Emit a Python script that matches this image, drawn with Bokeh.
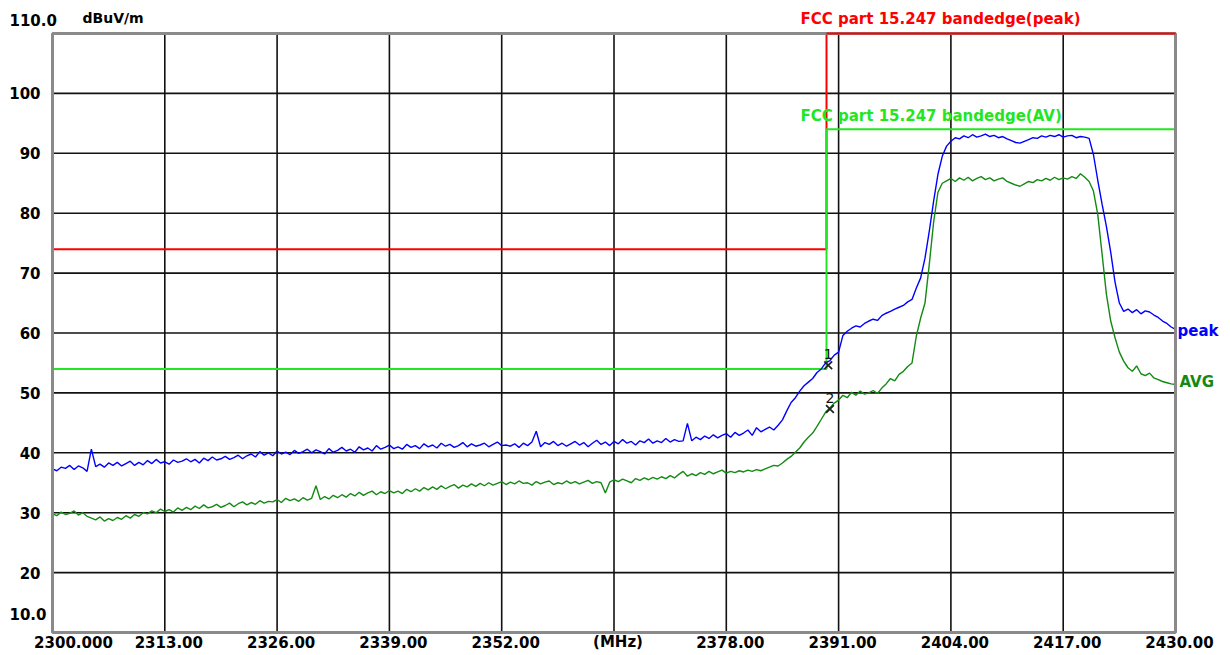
from bokeh.plotting import figure
from bokeh.models import Range1d
from bokeh.embed import file_html
from bokeh.resources import INLINE
from bokeh.core.properties import value

# ---------------- data ----------------
freq_start = 2300.0
freq_step = 0.5

peak = [
    37.3, 37.0, 37.6, 37.4, 37.9, 37.2, 37.8, 37.5, 36.9, 40.6, 37.7, 38.1, 37.6, 38.3, 37.9, 38.4, 37.8, 38.2, 38.6, 37.9,
    38.4, 38.0, 38.7, 38.2, 38.9, 38.3, 38.5, 38.1, 38.8, 38.4, 38.6, 39.0, 38.5, 38.9, 38.3, 39.1, 38.7, 39.3, 38.8, 39.0,
    39.4, 38.9, 39.2, 39.6, 39.0, 39.5, 39.8, 39.3, 40.2, 39.6, 40.0, 39.5, 40.3, 39.8, 40.1, 39.7, 40.4, 39.9, 40.2, 40.6,
    40.0, 40.5, 40.2, 39.8, 40.7, 40.1, 40.4, 40.9, 40.3, 40.6, 40.1, 41.0, 40.5, 40.8, 40.3, 41.2, 40.6, 40.9, 41.3, 40.7,
    41.0, 40.6, 41.4, 40.9, 41.2, 40.7, 41.5, 41.0, 41.3, 40.8, 41.6, 41.1, 41.4, 40.9, 41.2, 41.7, 41.0, 41.5, 41.1, 41.3,
    41.6, 41.0, 41.4, 41.8, 41.2, 41.3, 41.1, 41.5, 40.9, 41.6, 41.2, 41.8, 43.6, 41.0, 41.7, 41.4, 41.9, 41.2, 41.6, 41.1,
    41.5, 41.9, 41.3, 41.7, 41.0, 41.6, 42.1, 41.4, 41.8, 41.2, 41.9, 41.5, 42.2, 41.6, 41.9, 41.3, 42.0, 41.7, 42.3, 41.6,
    42.0, 41.7, 42.4, 41.8, 42.2, 41.9, 42.0, 44.9, 42.0, 42.6, 42.2, 42.8, 42.4, 43.0, 42.5, 42.9, 43.2, 42.6, 43.4, 42.9,
    43.3, 43.8, 42.9, 44.2, 43.5, 43.9, 44.3, 43.8, 44.6, 45.5, 47.0, 48.4, 49.2, 50.3, 51.2, 51.8, 52.4, 53.4, 54.0, 55.0,
    55.4, 56.3, 56.8, 59.6, 60.3, 60.8, 61.2, 61.0, 61.6, 62.0, 62.3, 62.1, 62.9, 63.3, 63.6, 64.0, 64.3, 64.6, 65.2, 65.6,
    67.5, 69.2, 72.5, 77.0, 82.0, 86.5, 89.5, 91.2, 92.0, 92.6, 92.4, 92.9, 92.6, 93.1, 92.7, 92.9, 93.2, 92.8, 93.0, 92.6,
    92.8, 92.4, 92.1, 91.8, 91.7, 92.0, 92.3, 92.6, 92.5, 92.9, 92.7, 93.0, 92.8, 93.1, 92.7, 92.9, 93.0, 92.6, 92.8, 92.7,
    92.5, 89.8, 85.5, 81.5, 77.8, 73.5, 68.5, 65.0, 63.6, 64.0, 63.4, 63.9, 63.2, 63.7, 63.5, 63.0, 62.6, 62.0, 61.6, 61.0,
    60.6,
]

avg = [
    29.8, 29.5, 30.1, 29.7, 29.9, 30.3, 29.6, 30.0, 29.4, 29.1, 28.8, 29.3, 28.6, 29.0, 28.7, 29.2, 28.9, 29.5, 29.1, 29.7,
    29.4, 30.0, 29.8, 30.3, 30.0, 30.6, 30.2, 30.5, 30.1, 30.8, 30.4, 30.9, 30.5, 31.1, 30.7, 31.3, 30.8, 31.0, 31.4, 30.9,
    31.2, 31.6, 31.0, 31.5, 31.8, 31.3, 31.7, 31.4, 32.0, 31.6, 31.9, 31.8, 32.2, 31.7, 32.4, 32.0, 32.3, 31.9, 32.5, 32.1,
    32.4, 34.5, 32.2, 32.7, 32.3, 32.9, 32.5, 33.0, 32.6, 33.2, 32.8, 33.4, 32.9, 33.3, 33.6, 33.0, 33.5, 33.2, 33.7, 33.3,
    33.6, 33.2, 33.9, 33.5, 34.0, 33.6, 34.2, 33.8, 34.3, 33.9, 34.5, 34.0, 34.4, 34.7, 34.1, 34.6, 34.3, 34.8, 34.4, 34.9,
    34.5, 35.0, 34.6, 34.9, 35.2, 34.7, 35.1, 34.8, 35.3, 34.9, 35.0, 34.6, 35.2, 34.8, 35.1, 35.3, 34.7, 35.0, 34.8, 35.3,
    34.9, 35.2, 34.8, 35.1, 35.4, 34.9, 35.2, 35.0, 33.3, 35.1, 35.5, 35.2, 35.6, 35.3, 35.0, 35.7, 35.4, 35.8, 35.5, 35.9,
    35.6, 36.0, 35.7, 36.2, 35.8, 36.4, 36.9, 36.1, 36.5, 36.2, 36.7, 36.4, 36.9, 36.5, 36.8, 37.1, 36.6, 36.9, 36.7, 37.0,
    36.8, 37.1, 36.9, 37.2, 37.0, 37.3, 37.6, 37.9, 37.8, 38.3, 38.9, 39.4, 40.1, 40.8, 41.8, 42.6, 43.3, 44.4, 45.6, 46.8,
    47.5, 48.3, 48.8, 49.6, 49.2, 50.1, 49.6, 50.3, 49.8, 50.0, 50.4, 49.9, 50.8, 51.5, 52.4, 52.0, 53.1, 53.6, 54.4, 55.0,
    59.5, 62.5, 65.0, 71.5, 78.5, 83.5, 85.0, 85.4, 85.8, 85.3, 85.9, 85.5, 86.0, 85.4, 85.8, 86.1, 85.6, 85.9, 85.4, 85.7,
    85.9, 85.3, 85.0, 84.7, 84.5, 84.9, 85.3, 85.1, 85.6, 85.4, 85.8, 85.5, 86.0, 85.6, 85.9, 85.7, 86.1, 85.8, 86.6, 86.0,
    85.3, 83.7, 79.8, 73.2, 66.5, 62.0, 59.2, 56.8, 55.3, 54.2, 53.6, 54.5, 53.2, 52.9, 53.3, 52.5, 52.2, 51.9, 51.7, 51.5,
    51.4,
]

freq = [freq_start + freq_step * i for i in range(len(peak))]

# limit lines (FCC part 15.247 bandedge)
peak_limit_f = [2300.0, 2389.6, 2389.6, 2430.0]
peak_limit_v = [74.0, 74.0, 110.0, 110.0]
av_limit_f = [2300.0, 2389.6, 2389.6, 2430.0]
av_limit_v = [54.0, 54.0, 94.0, 94.0]
peak_limit_name = "FCC part 15.247 bandedge(peak)"
av_limit_name = "FCC part 15.247 bandedge(AV)"

# markers
marker_f = [2389.8, 2390.0]
marker_v = [54.6, 47.3]
marker_txt = ["1", "2"]

# ticks
xticks = [2300, 2313, 2326, 2339, 2352, 2365, 2378, 2391, 2404, 2417, 2430]
xtick_labels = ["2300.000", "2313.00", "2326.00", "2339.00", "2352.00", "(MHz)",
                "2378.00", "2391.00", "2404.00", "2417.00", "2430.00"]
yticks = [10, 20, 30, 40, 50, 60, 70, 80, 90, 100, 110]
ytick_labels = ["10.0", "20", "30", "40", "50", "60", "70", "80", "90", "100", "110.0"]
unit_label = "dBuV/m"

FONT = "DejaVu Sans"

# ---------------- layout (pixels) ----------------
W, H = 1225, 650
box_left, box_top, box_w, box_h = 52, 33, 1123, 599
x_lo, x_hi = xticks[0], xticks[-1]
y_lo, y_hi = yticks[0], yticks[-1]
ppx = box_w / (x_hi - x_lo)
ppy = box_h / (y_hi - y_lo)
xr = Range1d(x_lo - box_left / ppx, x_hi + (W - box_left - box_w) / ppx)
yr = Range1d(y_lo - (H - box_top - box_h) / ppy, y_hi + box_top / ppy)

p = figure(width=W, height=H, output_backend="svg", toolbar_location=None,
           x_range=xr, y_range=yr, min_border=0,
           min_border_left=0, min_border_right=0, min_border_top=0, min_border_bottom=0)
p.background_fill_color = "white"
p.border_fill_color = "white"
p.outline_line_color = None
p.xaxis.visible = False
p.yaxis.visible = False
p.grid.visible = False

# grid
inner_x = xticks[1:-1]
inner_y = yticks[1:-1]
p.segment(x0=inner_x, y0=[y_lo] * len(inner_x), x1=inner_x, y1=[y_hi] * len(inner_x),
          line_color="#111111", line_width=1.6)
p.segment(x0=[x_lo] * len(inner_y), y0=inner_y, x1=[x_hi] * len(inner_y), y1=inner_y,
          line_color="#111111", line_width=1.6)

# limit lines
p.line(peak_limit_f, peak_limit_v, line_color="#ff0000", line_width=2)
p.line(av_limit_f, av_limit_v, line_color="#22e622", line_width=2)

# traces
p.line(freq, peak, line_color="#0000ff", line_width=1.4)
p.line(freq, avg, line_color="#138a13", line_width=1.4)

# plot box
p.quad(left=[x_lo], right=[x_hi], bottom=[y_lo], top=[y_hi], fill_color=None,
       line_color="#8a8a8a", line_width=3)
# red limit top edge drawn over the box
p.line(peak_limit_f[2:], peak_limit_v[2:], line_color="#ff0000", line_width=2)

# markers
p.scatter(marker_f, marker_v, marker="x", size=11, line_color="#222222", line_width=1.8)
p.text(marker_f, marker_v, text=marker_txt, text_font=value(FONT), text_font_size="14px",
       text_color="#111111", text_align="center", text_baseline="bottom", y_offset=-6)

bold = dict(text_font=value(FONT), text_font_style="bold", text_font_size="15px")

# x tick labels
x_off = [21 if s == "2300.000" else 4 for s in xtick_labels]
p.text(x=xticks, y=[y_lo] * len(xticks), text=xtick_labels, x_offset=x_off, y_offset=9,
       text_color="black", text_align="center", text_baseline="middle", **bold)

# y tick labels
reg_y = yticks[1:-1]
p.text(x=[x_lo] * len(reg_y), y=reg_y, text=ytick_labels[1:-1], x_offset=-12,
       text_color="black", text_align="right", text_baseline="middle", **bold)
p.text(x=[x_lo, x_lo], y=[y_hi, y_lo], text=[ytick_labels[-1], ytick_labels[0]],
       x_offset=-43, y_offset=[-14, -19],
       text_color="black", text_align="left", text_baseline="middle", **bold)
p.text(x=[x_lo], y=[y_hi], text=[unit_label], x_offset=30, y_offset=-16,
       text_color="black", text_align="left", text_baseline="middle",
       text_font=value(FONT), text_font_style="bold", text_font_size="14px")

# limit titles
p.text(x=[peak_limit_f[1]], y=[peak_limit_v[-1]], text=[peak_limit_name], x_offset=-26, y_offset=-15,
       text_color="#ff0000", text_align="left", text_baseline="middle", **bold)
p.text(x=[av_limit_f[1]], y=[av_limit_v[-1]], text=[av_limit_name], x_offset=-26, y_offset=-13,
       text_color="#22e622", text_align="left", text_baseline="middle", **bold)

# trace names
p.text(x=[freq[-1]], y=[peak[-1]], text=["peak"], x_offset=2, y_offset=2,
       text_color="#0000ff", text_align="left", text_baseline="middle", **bold)
p.text(x=[freq[-1]], y=[avg[-1]], text=["AVG"], x_offset=4, y_offset=-3,
       text_color="#138a13", text_align="left", text_baseline="middle", **bold)

open("out.html", "w").write(file_html(p, INLINE))
